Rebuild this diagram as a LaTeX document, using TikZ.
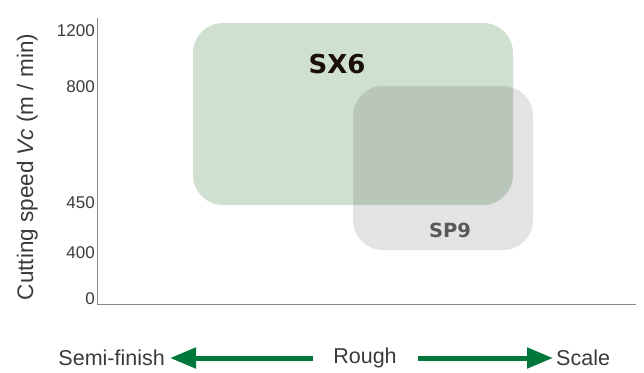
\documentclass[tikz,border=0pt]{standalone}
\usepackage{fontspec}
\setmainfont{Liberation Sans}
\newfontfamily\heavyfont{DejaVu Sans}
\usetikzlibrary{arrows.meta}
\definecolor{txt}{HTML}{3A3A3A}
\definecolor{axisgray}{HTML}{8A8A8A}
\definecolor{sxfill}{HTML}{CFE0D0}
\definecolor{spfill}{HTML}{E3E3E3}
\definecolor{arrgreen}{HTML}{00783C}
\definecolor{sxtext}{HTML}{1A0F0A}
\definecolor{sptext}{HTML}{595959}
\begin{document}
\begin{tikzpicture}[x=1pt,y=-1pt,
  tick/.style={anchor=east,inner sep=0pt,text=txt,font=\fontsize{17}{17}\selectfont},
  bottomlbl/.style={inner sep=0pt,text=txt,font=\fontsize{21.5}{21.5}\selectfont},
  arr/.style={draw=arrgreen,line width=5pt,-{Triangle[length=26pt,width=20pt]}},
  region/.style={rounded corners=30pt}]
\useasboundingbox (0,0) rectangle (644,372);
% regions
\fill[sxfill,region] (193,23) rectangle (513,205);
\begin{scope}[blend mode=multiply]
\fill[spfill,region] (353,86) rectangle (533,250);
\end{scope}
\node[inner sep=0pt,text=sxtext,font=\heavyfont\bfseries\fontsize{26}{26}\selectfont] (sx6) at (337,64) {SX6};
\node[inner sep=0pt,text=sptext,font=\heavyfont\bfseries\fontsize{19.5}{19.5}\selectfont] (sp9) at (450,230) {SP9};
% axes
\coordinate (top) at (97,18);
\coordinate (origin) at (97,304);
\coordinate (right) at (636,304);
\draw[axisgray,line width=0.9pt] (top) -- (origin) -- (right);
% ticks
\node[tick] (t1200) at (95,31) {1200};
\node[tick] (t800) at (95,87) {800};
\node[tick] (t450) at (95,203) {450};
\node[tick] (t400) at (95,253) {400};
\node[tick] (t0) at (95,299) {0};
% y label
\node[rotate=90,anchor=base,inner sep=0pt,text=txt,font=\fontsize{22.5}{22.5}\selectfont] (ylabel) at (33,167) {Cutting speed \textit{Vc} (m / min)};
% bottom
\node[bottomlbl,anchor=east] (semi) at (165,358) {Semi-finish};
\node[bottomlbl] (rough) at (365,358) {Rough};
\node[bottomlbl,anchor=west] (scale) at (556,358) {Scale};
\draw[arr] ([xshift=-20pt]rough.west) -- ([xshift=5pt]semi.east);
\draw[arr] ([xshift=21pt]rough.east) -- ([xshift=-3pt]scale.west);
\end{tikzpicture}
\end{document}
